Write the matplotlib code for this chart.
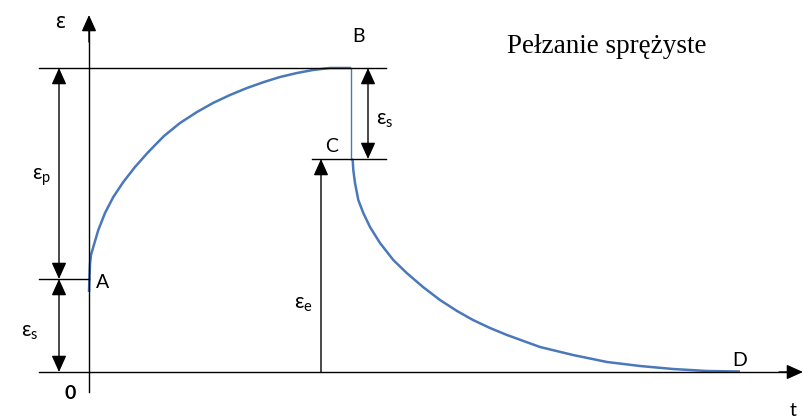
import matplotlib
matplotlib.use("Agg")
import matplotlib.pyplot as plt

plt.rcParams['font.family'] = ['Lato', 'Noto Sans', 'DejaVu Sans']
plt.rcParams['mathtext.fontset'] = 'custom'
plt.rcParams['mathtext.rm'] = 'Noto Sans'
plt.rcParams['mathtext.it'] = 'Noto Sans'

# ---- data (schematic units: t to the right, strain up) ----
creep_t = [0, 0.3, 1, 2, 4.3, 9.3, 16, 24.3, 34.3, 46, 59.3, 75, 91, 108,
           124, 141, 158, 175, 191, 208, 224, 241, 262]
creep_eps = [80, 90, 108, 117, 125, 142, 159, 175, 190, 205, 220, 236, 249,
             260, 269, 277, 284, 290, 295, 299, 302, 304, 304]
recov_t = [262, 263.7, 264.3, 266, 269.3, 274.3, 281, 291, 304.3, 317.7, 334,
           351, 368, 384, 401, 418, 451, 484, 518, 551, 584, 618, 651]
recov_eps = [213, 212, 202, 189, 172, 159, 145, 129, 112, 99, 85, 72, 61, 52,
             44, 37, 25, 17, 10, 6, 3, 1, 0.5]
eps_A = 93      # instantaneous strain level
eps_B = 304     # max strain
eps_C = 213     # after unloading
t_B = 262       # unloading time

title = "Pełzanie sprężyste"

fig = plt.figure(figsize=(8.1, 4.19), dpi=100)
ax = fig.add_axes([0, 0, 1, 1])
ax.set_xlim(-89, 721)
ax.set_ylim(-47, 372)
ax.axis('off')

blue = '#4a78ba'
k = dict(color='black', lw=1.0)

# curves
ax.plot(creep_t, creep_eps, color=blue, lw=1.8, solid_capstyle='butt',
        solid_joinstyle='round')
ax.plot([t_B, t_B], [eps_B, eps_C], color=blue, lw=1.0)
ax.plot(recov_t, recov_eps, color=blue, lw=1.8, solid_capstyle='butt',
        solid_joinstyle='round')

# guide lines
ax.plot([-50, 297], [eps_B, eps_B], **k)
ax.plot([223, 297], [eps_C, eps_C], **k)
ax.plot([-50, 0], [eps_A, eps_A], **k)

def arrow(x0, y0, x1, y1, style='-|>'):
    ax.annotate('', xy=(x1, y1), xytext=(x0, y0),
                arrowprops=dict(arrowstyle=f'{style},head_length=1.0,head_width=0.45',
                                mutation_scale=10, color='black', lw=1.0,
                                shrinkA=0, shrinkB=0))

# axes
ax.plot([0, 0], [-20, 345], **k)
arrow(0, 330, 0, 357)
ax.plot([-50, 700], [0, 0], **k)
arrow(690, 0, 714, 0)

# dimension arrows
arrow(-30, eps_A, -30, eps_B, '<|-|>')
arrow(-30, 0, -30, eps_A, '<|-|>')
arrow(279, eps_C, 279, eps_B, '<|-|>')
arrow(232, 0, 232, eps_C)

fs = 14
fe = 15
ax.text(-29, 349, 'ε', fontsize=fe, family='Noto Sans', ha='center', va='center')
ax.text(269, 335, 'B', fontsize=fs, ha='center', va='center')
ax.text(243, 226, 'C', fontsize=fs, ha='center', va='center')
ax.text(14, 90, 'A', fontsize=fs, ha='center', va='center')
ax.text(651, 12, 'D', fontsize=fs, ha='center', va='center')
ax.text(-19, -21, '0', fontsize=fs, ha='center', va='center', fontweight='bold')
ax.text(704, -46.5, 't', fontsize=fs, ha='center', va='bottom')
ax.text(296, 252, r'$\mathregular{ε_s}$', fontsize=fe, ha='center', va='center')
ax.text(-47, 195, r'$\mathregular{ε_p}$', fontsize=fe, ha='center', va='center')
ax.text(-59, 40, r'$\mathregular{ε_s}$', fontsize=fe, ha='center', va='center')
ax.text(214, 68, r'$\mathregular{ε_e}$', fontsize=fe, ha='center', va='center')

ax.text(418, 319, title, fontsize=19.5, family='Liberation Serif',
        ha='left', va='baseline')

fig.savefig('out.png', dpi=100)
